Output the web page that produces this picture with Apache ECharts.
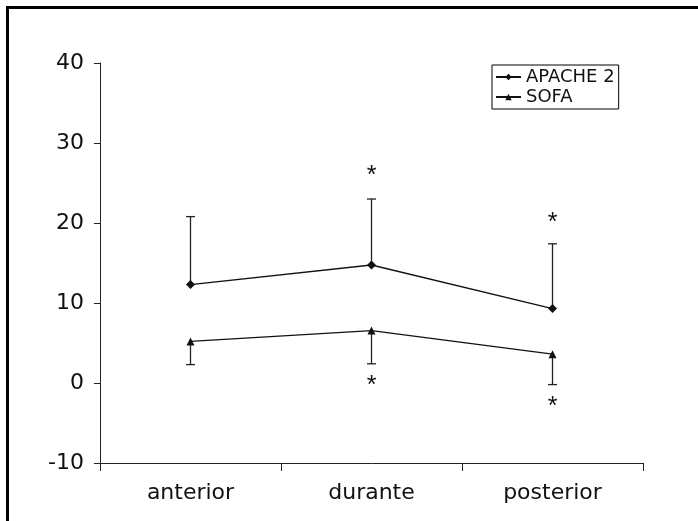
<!DOCTYPE html>
<html>
<head>
<meta charset="utf-8">
<script src="https://cdn.jsdelivr.net/npm/echarts@6/dist/echarts.min.js"></script>
<style>
html,body{margin:0;padding:0;background:#fff;}
#chart{width:698px;height:521px;}
</style>
</head>
<body>
<div id="chart"></div>
<script>
var categories = ['anterior', 'durante', 'posterior'];
var apacheValues = [12.3, 14.75, 9.3];
var apacheUpper = [20.8, 23.0, 17.4];
var sofaValues = [5.2, 6.55, 3.6];
var sofaLower = [2.3, 2.4, -0.2];
var asterisks = [[1, 26.3], [2, 20.5], [1, 0.1], [2, -2.5]];
var yTicks = {min: -10, max: 40, interval: 10};

var chart = echarts.init(document.getElementById('chart'));
var font = 'DejaVu Sans';

function errorRender(values, bounds) {
  return function (params, api) {
    var i = api.value(0);
    var p0 = api.coord([i, values[i]]);
    var p1 = api.coord([i, bounds[i]]);
    var half = 4.5;
    return {
      type: 'group',
      children: [
        {type: 'line', shape: {x1: p0[0], y1: p0[1], x2: p1[0], y2: p1[1]}, style: {stroke: '#222', lineWidth: 1.3}},
        {type: 'line', shape: {x1: p1[0] - half, y1: p1[1], x2: p1[0] + half, y2: p1[1]}, style: {stroke: '#222', lineWidth: 1.3}}
      ]
    };
  };
}

var option = {
  backgroundColor: '#fff',
  animation: false,
  graphic: [{
    type: 'rect', shape: {x: 7.5, y: 7.5, width: 760, height: 560},
    style: {fill: null, stroke: '#000', lineWidth: 3}, z: 100
  }],
  grid: {left: 100, right: 55, top: 63, bottom: 58},
  legend: {
    left: 492, top: 65, orient: 'vertical',
    borderColor: '#000', borderWidth: 1,
    padding: [3, 4, 3, 3],
    itemWidth: 25, itemHeight: 8, itemGap: 2,
    textStyle: {fontFamily: font, fontSize: 18, color: '#111'},
    data: ['APACHE 2', 'SOFA']
  },
  xAxis: {
    type: 'category', data: categories, boundaryGap: true,
    axisLine: {onZero: false, lineStyle: {color: '#222', width: 1}},
    axisTick: {show: true, length: 8, lineStyle: {color: '#222'}},
    axisLabel: {fontFamily: font, fontSize: 22, color: '#111', margin: 19},
    splitLine: {show: false}
  },
  yAxis: {
    type: 'value', min: yTicks.min, max: yTicks.max, interval: yTicks.interval,
    axisLine: {show: true, lineStyle: {color: '#222', width: 1}},
    axisTick: {show: true, length: 6, lineStyle: {color: '#222'}},
    axisLabel: {fontFamily: font, fontSize: 22, color: '#111', margin: 16},
    splitLine: {show: false}
  },
  series: [
    {
      name: 'APACHE 2upper', type: 'custom', data: [[0], [1], [2]],
      renderItem: errorRender(apacheValues, apacheUpper), z: 1, silent: true
    },
    {
      name: 'SOFAlower', type: 'custom', data: [[0], [1], [2]],
      renderItem: errorRender(sofaValues, sofaLower), z: 1, silent: true
    },
    {
      name: 'APACHE 2', type: 'line', data: apacheValues,
      symbol: 'diamond', symbolSize: 9, z: 3,
      lineStyle: {color: '#111', width: 1.3},
      itemStyle: {color: '#111'}
    },
    {
      name: 'SOFA', type: 'line', data: sofaValues,
      symbol: 'triangle', symbolSize: 8, z: 3,
      lineStyle: {color: '#111', width: 1.3},
      itemStyle: {color: '#111'}
    },
    {
      name: 'asterisks', type: 'custom', data: asterisks, silent: true,
      renderItem: function (params, api) {
        var p = api.coord([api.value(0), api.value(1)]);
        return {
          type: 'text', x: p[0], y: p[1] + 4,
          style: {text: '*', fontFamily: 'Liberation Sans', fontSize: 25, fill: '#111', align: 'center', verticalAlign: 'middle'}
        };
      }
    }
  ]
};
chart.setOption(option);
</script>
</body>
</html>
